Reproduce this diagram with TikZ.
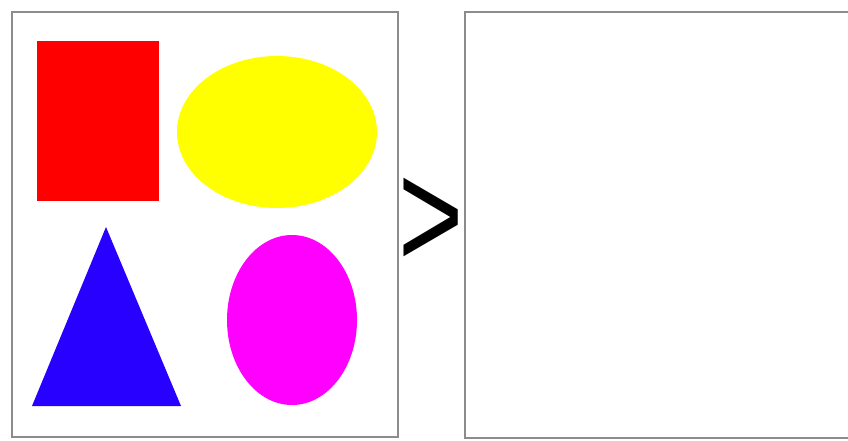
\documentclass[tikz,border=0pt]{standalone}
\usepackage{fontspec}
\newfontfamily\symfont{Liberation Sans}
\definecolor{framegray}{RGB}{140,140,140}
\definecolor{shapered}{RGB}{255,0,0}
\definecolor{shapeyellow}{RGB}{255,255,0}
\definecolor{shapeblue}{RGB}{40,0,255}
\definecolor{shapemagenta}{RGB}{255,0,255}
\tikzset{
  frame/.style={draw=framegray, line width=2pt},
}

\begin{document}
\begin{tikzpicture}[x=1pt,y=-1pt]
\useasboundingbox (0,0) rectangle (848,440);

\draw[frame] (12,12) rectangle (398,437);
\draw[frame] (870,12) -- (465,12) -- (465,438) -- (870,438);

\fill[shapered] (37,41) rectangle (159,201);

\fill[shapeyellow] (277,132) ellipse (100 and 76);

\fill[shapeblue] (106,227) -- (181,406) -- (32,406) -- cycle;

\fill[shapemagenta] (292,320) ellipse (65 and 85);

\node[inner sep=0pt, font=\symfont\fontsize{155}{155}\selectfont] (gt) at (431,223) {\scalebox{0.72}[1]{>}};

\end{tikzpicture}
\end{document}
